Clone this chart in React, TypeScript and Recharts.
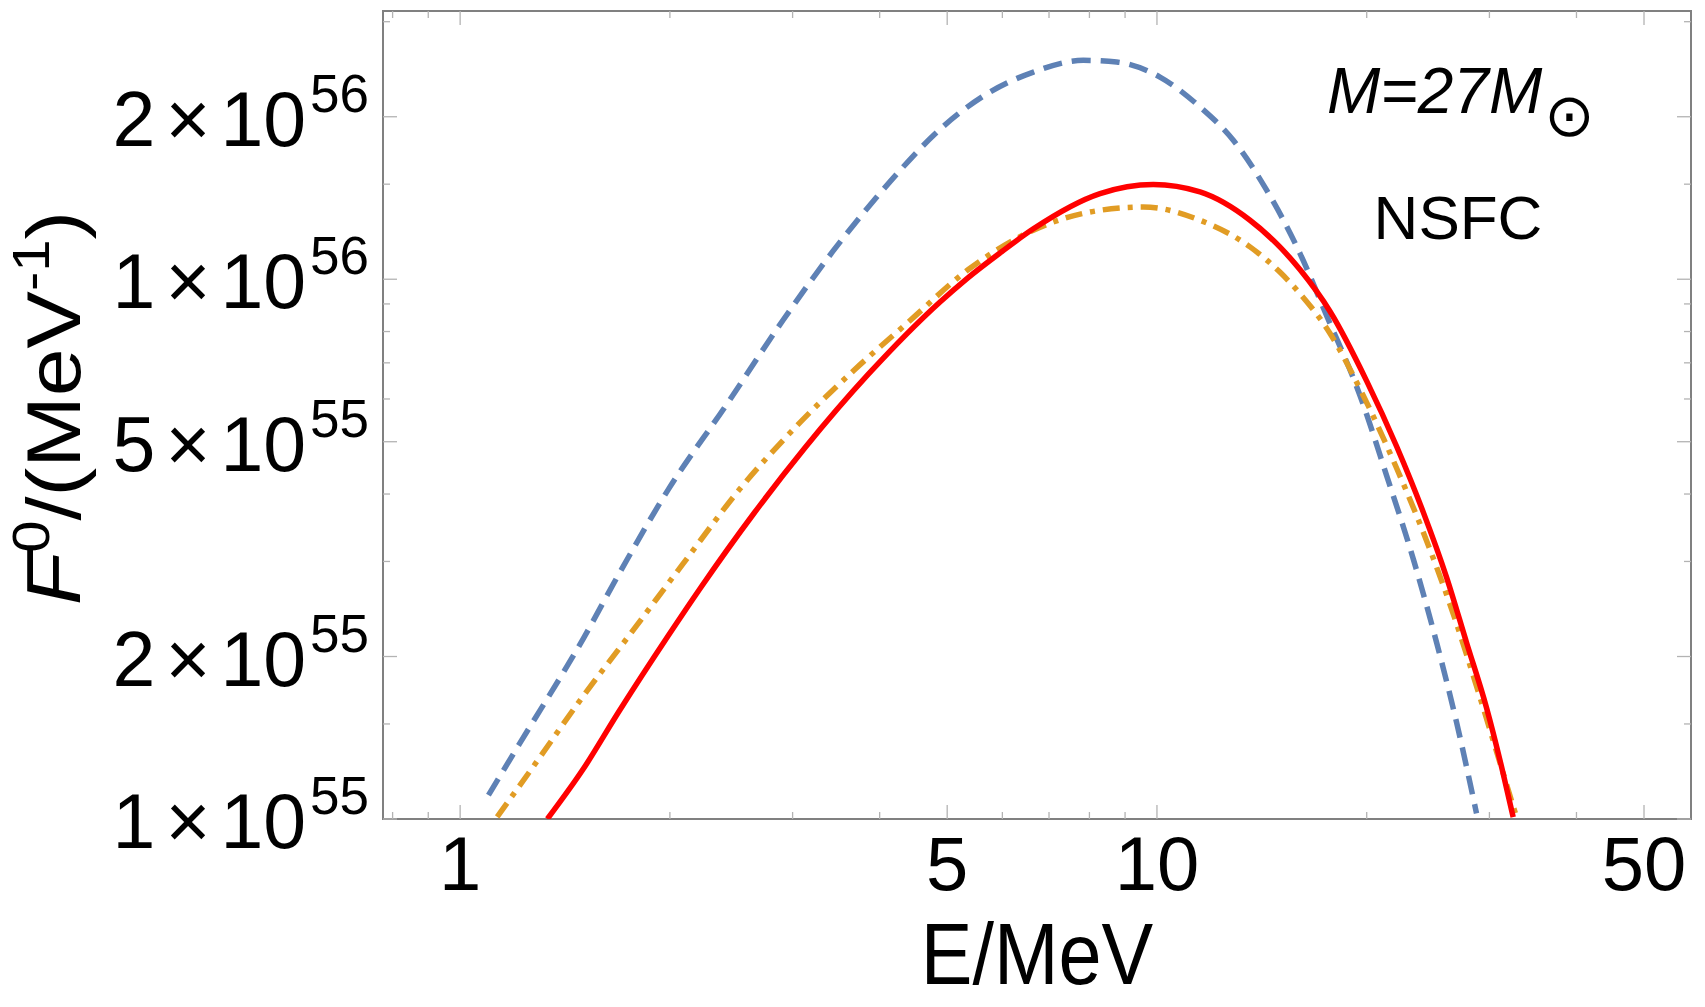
import React from "react";
import { LineChart, Line, XAxis, YAxis, ReferenceArea } from "recharts";

// Spectra F(E); F values are in units of 1e55 MeV^-1, E in MeV
const UNIT = 1e55;

const DASHED_E = [1.098, 1.217, 1.501, 1.689, 1.992, 2.406, 2.906, 3.428, 3.948, 4.279, 4.776, 5.636, 6.647, 7.84, 8.753, 10.1, 11.53, 12.87, 14.37, 16.04, 17.52, 19.56, 21.36, 23.33, 25.2, 26.92, 28.75];
const DASHED_F = [1.107, 1.379, 2.155, 2.84, 4.089, 5.831, 8.395, 11.27, 14.12, 15.91, 18.46, 21.85, 24.2, 25.44, 25.26, 23.69, 20.85, 18.09, 14.62, 11.17, 8.562, 6.091, 4.328, 3.03, 2.121, 1.508, 1.024];

const DOTDASH_E = [1.13, 1.273, 1.501, 1.75, 2.088, 2.521, 3.045, 3.678, 4.379, 5.392, 6.647, 8.285, 9.558, 11.53, 13.6, 15.01, 16.04, 17.71, 19.77, 22.08, 24.38, 26.61, 28.75, 30.72, 32.81];
const DOTDASH_F = [1.009, 1.25, 1.688, 2.192, 2.969, 4.089, 5.358, 6.79, 8.289, 10.48, 12.33, 13.42, 13.61, 12.86, 11.48, 10.31, 9.408, 7.943, 6.091, 4.465, 3.275, 2.403, 1.762, 1.333, 1.008];

const SOLID_E = [1.334, 1.501, 1.689, 1.992, 2.215, 2.644, 3.119, 3.856, 4.883, 5.333, 5.955, 6.647, 8.285, 9.879, 11.53, 13.6, 15.01, 16.04, 17.71, 20.0, 22.08, 24.1, 26.04, 27.82, 29.72, 31.39, 32.45];
const SOLID_F = [1.0, 1.236, 1.58, 2.192, 2.685, 3.693, 4.857, 6.675, 9.076, 10.02, 11.19, 12.4, 14.41, 14.98, 14.51, 12.86, 11.48, 10.42, 8.724, 6.476, 4.899, 3.707, 2.804, 2.121, 1.606, 1.215, 1.008];

const X_DOMAIN = [0.775, 58.4];
const Y_DOMAIN = [1e55, 3.14e56];
const X_MAJOR = [1, 5, 10, 50];
const X_MINOR = [0.8, 0.9, 2, 3, 4, 6, 7, 8, 9, 20, 30, 40];
const Y_MAJOR = [1e55, 2e55, 5e55, 1e56, 2e56];
const Y_MINOR = [1.5e55, 3e55, 4e55, 6e55, 7e55, 8e55, 9e55, 1.5e56, 3e56];

const W = 1705;
const H = 1007;
const Y_AXIS_W = 383;
const X_AXIS_H = 188;
const MARGIN = { top: 11, right: 14, left: 0, bottom: 0 };
const PLOT_L = Y_AXIS_W;
const PLOT_R = W - MARGIN.right;
const PLOT_T = MARGIN.top;
const PLOT_B = H - X_AXIS_H;

const FONT = "'Liberation Sans', Arial, Helvetica, sans-serif";
const TICK_COLOR = "#b3b3b3";

const toRows = (es: number[], fs: number[]) => es.map((e, i) => ({ E: e, F: fs[i] * UNIT }));
const dashed = toRows(DASHED_E, DASHED_F);
const dotDash = toRows(DOTDASH_E, DOTDASH_F);
const solid = toRows(SOLID_E, SOLID_F);

const isIn = (list: number[], v: number) => list.some((m) => Math.abs(m - v) / m < 1e-6);

// frame ticks point inward, drawn on both opposite sides
function XTick(props: any) {
  const { x, payload } = props;
  const v = payload.value;
  const major = isIn(X_MAJOR, v);
  const len = major ? 14 : 7;
  return (
    <g>
      <line x1={x} x2={x} y1={PLOT_B} y2={PLOT_B - len} stroke={TICK_COLOR} strokeWidth={1.3} />
      <line x1={x} x2={x} y1={PLOT_T} y2={PLOT_T + len} stroke={TICK_COLOR} strokeWidth={1.3} />
      {major && (
        <text x={x} y={890} textAnchor="middle" fontSize={76} fontFamily={FONT} fill="#000">
          {v}
        </text>
      )}
    </g>
  );
}

function YTick(props: any) {
  const { y, payload } = props;
  const v = payload.value;
  const major = isIn(Y_MAJOR, v);
  const len = major ? 14 : 7;
  let label = null;
  if (major) {
    const exp = Math.floor(Math.log10(v) + 1e-9);
    const mant = Math.round(v / Math.pow(10, exp));
    label = (
      <text x={369} y={y + 29} textAnchor="end" fontSize={77} fontFamily={FONT} fill="#000">
        <tspan>{mant}</tspan>
        <tspan dx={10}>×</tspan>
        <tspan dx={10}>10</tspan>
        <tspan dx={4} dy={-34} fontSize={53}>
          {exp}
        </tspan>
      </text>
    );
  }
  return (
    <g>
      <line x1={PLOT_L} x2={PLOT_L + len} y1={y} y2={y} stroke={TICK_COLOR} strokeWidth={1.3} />
      <line x1={PLOT_R} x2={PLOT_R - len} y1={y} y2={y} stroke={TICK_COLOR} strokeWidth={1.3} />
      {label}
    </g>
  );
}

const xTitle = () => (
  <text
    transform={`translate(${(PLOT_L + PLOT_R) / 2}, 984) scale(0.88, 1)`}
    textAnchor="middle"
    fontSize={88}
    fontFamily={FONT}
    fill="#000"
  >
    E/MeV
  </text>
);

const yTitle = () => (
  <text
    transform="translate(80, 408) rotate(-90) scale(1, 0.88)"
    textAnchor="middle"
    fontSize={86}
    fontFamily={FONT}
    fill="#000"
  >
    <tspan fontStyle="italic">F</tspan>
    <tspan fontSize={58} dy={-35}>0</tspan>
    <tspan dy={35}>/(MeV</tspan>
    <tspan fontSize={58} dy={-35}>-1</tspan>
    <tspan dy={35}>)</tspan>
  </text>
);

const lineCommon = {
  dataKey: "F",
  type: "monotone" as const,
  strokeWidth: 5.5,
  dot: false,
  activeDot: false,
  isAnimationActive: false,
};

export default function App() {
  return (
    <div style={{ position: "absolute", left: 0, top: 0, width: W, height: H, background: "#fff" }}>
      <LineChart width={W} height={H} margin={MARGIN}>
        <XAxis
          dataKey="E"
          type="number"
          scale="log"
          domain={X_DOMAIN}
          allowDataOverflow
          ticks={[...X_MAJOR, ...X_MINOR].sort((a, b) => a - b)}
          interval={0}
          tickLine={false}
          axisLine={false}
          tickSize={0}
          tickMargin={0}
          height={X_AXIS_H}
          tick={<XTick />}
          label={xTitle}
        />
        <YAxis
          type="number"
          scale="log"
          domain={Y_DOMAIN}
          allowDataOverflow
          ticks={[...Y_MAJOR, ...Y_MINOR].sort((a, b) => a - b)}
          interval={0}
          tickLine={false}
          axisLine={false}
          tickSize={0}
          tickMargin={0}
          width={Y_AXIS_W}
          tick={<YTick />}
          label={yTitle}
        />
        <ReferenceArea
          x1={X_DOMAIN[0]}
          x2={X_DOMAIN[1]}
          y1={Y_DOMAIN[0]}
          y2={Y_DOMAIN[1]}
          fill="none"
          stroke="#808080"
          strokeWidth={2}
          ifOverflow="visible"
        />
        <Line data={dashed} {...lineCommon} stroke="#5E81B5" strokeDasharray="19 10" />
        <Line data={dotDash} {...lineCommon} stroke="#E19C24" strokeDasharray="17 8 5 8" />
        <Line data={solid} {...lineCommon} stroke="#FF0000" />
      </LineChart>
      <svg
        width={W}
        height={H}
        style={{ position: "absolute", left: 0, top: 0, pointerEvents: "none" }}
      >
        <text x={1327} y={113} fontSize={64} fontStyle="italic" fontFamily={FONT} fill="#000">
          M=27M
          <tspan fontStyle="normal" fontFamily="'DejaVu Sans'" fontSize={60} dx={2} dy={23}>
            ⊙
          </tspan>
        </text>
        <text x={1458} y={239} textAnchor="middle" fontSize={62} fontFamily={FONT} fill="#000">
          NSFC
        </text>
      </svg>
    </div>
  );
}
